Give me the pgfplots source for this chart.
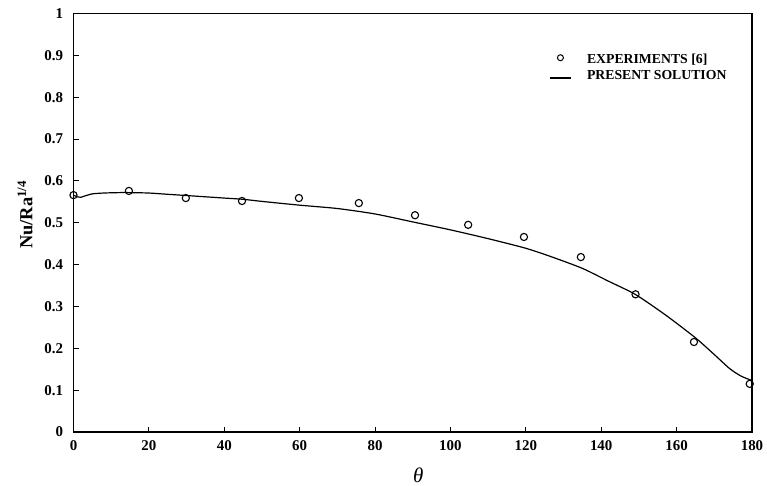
\documentclass[border=0pt]{standalone}
\usepackage{fontspec}
\setmainfont{Liberation Serif}
\usepackage{pgfplots}
\pgfplotsset{compat=1.18}

\begin{document}
\begin{tikzpicture}
\useasboundingbox (0,0) rectangle (767bp,486bp);
\begin{axis}[
    at={(73.5bp,54bp)}, anchor=south west,
    scale only axis,
    width=678.5bp, height=418.5bp,
    xmin=0, xmax=180, ymin=0, ymax=1,
    xtick={0,20,...,180},
    ytick={0,0.1,...,1},
    xtick pos=bottom, ytick pos=left,
    tick align=inside,
    major tick length=5bp,
    axis line style={line width=1.1bp},
    every tick/.style={line width=0.9bp, black},
    /pgf/number format/assume math mode=true,
    ticklabel style={font=\fontsize{15}{17}\selectfont\bfseries},
    xticklabel style={yshift=-5bp},
    yticklabel style={xshift=-7bp},
    xlabel={\fontsize{21}{24}\selectfont\itshape θ},
    xlabel style={at={(axis description cs:0.508,-0.103)}, anchor=center},
    ylabel={\fontsize{18.5}{20}\selectfont\bfseries Nu/Ra\textsuperscript{1/4}},
    ylabel style={at={(axis description cs:-0.0715,0.519)}, anchor=center},
    legend cell align=left,
    legend style={draw=none, fill=none, inner sep=0pt,
        at={(axis description cs:0.701,0.908)}, anchor=north west,
        font=\fontsize{13.8}{15}\selectfont\bfseries,
        nodes={inner sep=1.5bp},
        row sep=3bp,
        /tikz/every odd column/.append style={column sep=14bp}},
]
\addplot[only marks, mark=o, mark size=3.6bp, mark options={line width=1.1bp},
    legend image code/.code={\draw[line width=1bp] (10.5bp,1.5bp) circle (3bp);}]
    coordinates {
    (0,0.566) (14.7,0.576) (29.8,0.559) (44.7,0.552) (59.8,0.559)
    (75.7,0.547) (90.6,0.518) (104.7,0.495) (119.5,0.466) (134.6,0.418)
    (149.1,0.329) (164.6,0.215) (179.4,0.115)
};
\addlegendentry{EXPERIMENTS [6]}
\addplot[no marks, line width=1.2bp, smooth, tension=0.4,
    legend image code/.code={\draw[line width=1.2bp] (0bp,-2bp) -- (21bp,-2bp);}]
    coordinates {
    (0,0.566) (1,0.562) (2,0.561) (3,0.564) (5,0.569) (8,0.571) (12,0.572)
    (15,0.572) (20,0.571) (25,0.568) (30,0.565) (40,0.559) (45,0.556)
    (50,0.551) (60,0.542) (70,0.534) (80,0.521) (90,0.502)
    (100,0.483) (110,0.462) (120,0.439) (127,0.418) (135,0.391)
    (142,0.360) (149,0.329) (157,0.280) (165,0.225) (170,0.185) (174,0.152)
    (177,0.134) (180,0.123)
};
\addlegendentry{PRESENT SOLUTION}
\end{axis}
\end{tikzpicture}
\end{document}
